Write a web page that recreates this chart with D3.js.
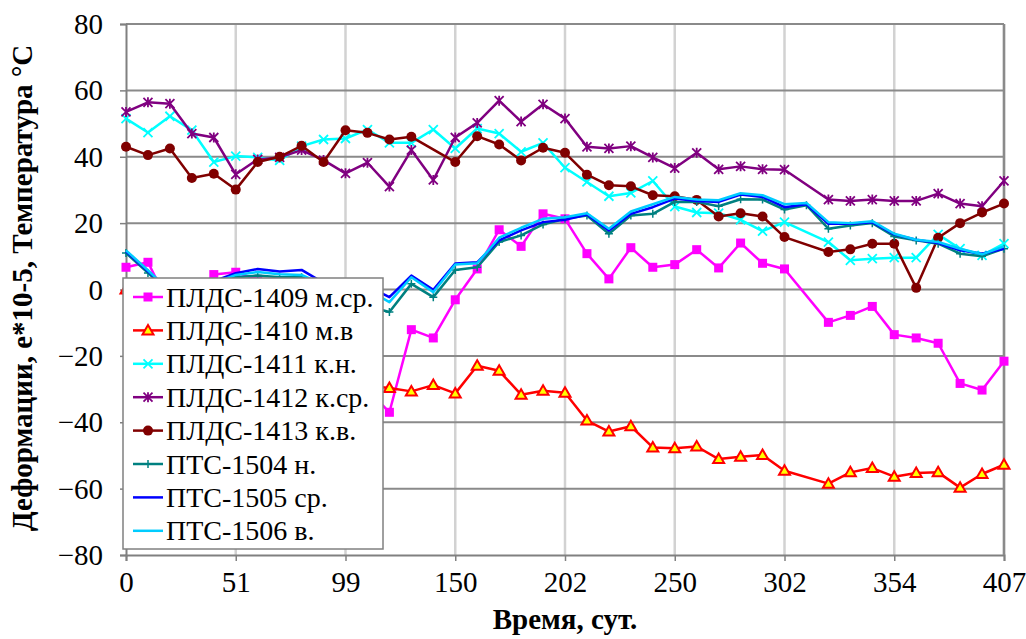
<!DOCTYPE html>
<html>
<head>
<meta charset="utf-8">
<script src="https://cdn.jsdelivr.net/npm/d3@7"></script>
<style>
  body { margin: 0; background: #fff; }
  #chart text { font-family: 'Liberation Serif', 'Times New Roman', Tinos, serif !important; }
</style>
</head>
<body>
<svg id="chart" width="1026" height="639"></svg>
<script>
// x tick labels (every 5th measurement), days
const tickLabels = [0, 51, 99, 150, 202, 250, 302, 354, 407];
const yTicks = [-80, -60, -40, -20, 0, 20, 40, 60, 80];

const seriesNames = ['ПЛДС-1409 м.ср.', 'ПЛДС-1410 м.в', 'ПЛДС-1411 к.н.', 'ПЛДС-1412 к.ср.',
  'ПЛДС-1413 к.в.', 'ПТС-1504 н.', 'ПТС-1505 ср.', 'ПТС-1506 в.'];

const plds1409 = [6.7, 8.2, -5, -3, 4.5, 5.2, 3, 1, -4, -10, -20, -30, -37, -12.1, -14.6, -3.1, 6.2, 18, 13, 22.8,
  21.3, 10.8, 3.2, 12.6, 6.7, 7.5, 12, 6.5, 14, 7.9, 6.2, null, -9.9, -7.8, -5.1, -13.6, -14.6, -16.2, -28.3, -30.3, -21.6];
const plds1410 = [0, -4, -7, -9, -13, -15, -17, -20, -22, -25, -27, -29, -29.7, -30.7, -28.8, -31.3, -23, -24.5, -31.7, -30.5,
  -31.1, -39.5, -42.8, -41.2, -47.6, -47.8, -47.3, -51.1, -50.4, -49.9, -54.6, null, -58.5, -55.1, -53.8, -56.4, -55.3, -55.1, -59.7, -55.6, -52.8];
const plds1411 = [51.5, 47.3, 52.2, 48, 38.4, 40.2, 39.8, 38.9, 43.2, 45.2, 45.5, 48.2, 44.2, 44.2, 48.2, 42.5, 48.5, 47, 41.5, 44.2,
  36.7, 32.4, 28.1, 29.1, 32.7, 25, 23.2, 23, 21, 17.6, 20.3, null, 14.3, 8.8, 9.3, 9.6, 9.6, 16.6, 12.3, 10.3, 13.8];
const plds1412 = [53.5, 56.4, 56, 47, 45.8, 34.7, 39.2, 39.8, 42, 39, 35, 38.2, 31, 42, 33, 45.8, 50.2, 56.9, 50.6, 55.8,
  51.5, 43, 42.5, 43.2, 39.8, 36.6, 41.2, 36.2, 37.1, 36.2, 36.1, null, 27.1, 26.7, 27.1, 26.7, 26.7, 28.9, 25.9, 25.1, 32.7];
const plds1413 = [43, 40.5, 42.5, 33.6, 34.9, 30.1, 38.4, 40, 43.3, 38.4, 48, 47.2, 45.2, 46, null, 38.4, 46.2, 43.7, 38.9, 42.7,
  41.2, 34.6, 31.4, 31.1, 28.4, 28.1, 27, 22, 23, 22, 15.8, null, 11.3, 12.1, 13.8, 13.8, 0.5, 15.6, 20, 23.2, 25.9];
const pts1504 = [11, 5, -1, -2, 1.5, 3.7, 4.2, 3.7, 3.7, 1, -3, -5, -6.8, 1.7, -2.3, 5.9, 6.7, 14.3, 16.3, 19.6,
  21.3, 22.3, 16.8, 22.3, 22.8, 26.4, 26.4, 25.1, 27.2, 27.1, 24.1, 25.4, 18.3, 19.3, 20, 16, 14.8, 13.8, 10.8, 10, 12.3];
const pts1505 = [11.5, 5.5, -0.5, -1, 2.5, 4.9, 6.2, 5.4, 5.9, 2, -1, 1, -2.3, 4.2, -0.1, 7.8, 8.2, 14.8, 17.8, 20.3,
  21, 22.6, 17.8, 22.8, 24.8, 27.4, 26.7, 26.4, 28.6, 27.9, 24.8, 25.7, 19.8, 19.8, 20.3, 16.6, 15, 14, 11.8, 10.8, 12.3];
const pts1506 = [11.8, 5.8, -0.5, -1.5, 2, 4.4, 5.3, 4.6, 4.4, 1.5, -2, 0, -3.8, 3.7, -0.8, 7.5, 7.9, 15.6, 18.6, 21.3,
  21.8, 23, 18.3, 23.5, 25.7, 27.9, 27.1, 26.9, 29, 28.4, 25.7, 26.1, 20.3, 20, 20.6, 16.8, 15, 14.3, 12.3, 10.6, 13];

const seriesValues = [plds1409, plds1410, plds1411, plds1412, plds1413, pts1504, pts1505, pts1506];
const colors = ['#ff00ff', '#ff0000', '#00ffff', '#800080', '#800000', '#008080', '#0000ff', '#00ccff'];
const markers = ['square', 'triangle', 'cross', 'star', 'circle', 'plus', 'none', 'none'];

const fontFam = "'Liberation Serif', 'Times New Roman', Tinos, serif";
const svg = d3.select('#chart');
const plotLeft = 126, plotRight = 1004, plotTop = 24, plotBottom = 555;

const x = d3.scaleLinear().domain([0, 40]).range([plotLeft, plotRight]);
const y = d3.scaleLinear().domain([-80, 80]).range([plotBottom, plotTop]);

// vertical gridlines
svg.append('g')
  .selectAll('line')
  .data(d3.range(5, 41, 5))
  .enter()
  .append('line')
  .attr('x1', d => x(d)).attr('x2', d => x(d))
  .attr('y1', plotTop).attr('y2', plotBottom)
  .attr('stroke', '#d2d2d2')
  .attr('stroke-width', 2.5);

// horizontal gridlines
svg.append('g')
  .selectAll('line')
  .data(yTicks.filter(d => d > -80))
  .enter()
  .append('line')
  .attr('x1', plotLeft).attr('x2', plotRight)
  .attr('y1', d => y(d)).attr('y2', d => y(d))
  .attr('stroke', '#8a8a8a')
  .attr('stroke-width', 2);

// axes
const yAxis = svg.append('g')
  .attr('transform', `translate(${plotLeft},0)`)
  .call(d3.axisLeft(y).tickValues(yTicks).tickSize(6).tickPadding(17));
const xAxis = svg.append('g')
  .attr('transform', `translate(0,${plotBottom})`)
  .call(d3.axisBottom(x).tickValues(d3.range(0, 41, 5))
    .tickFormat((d, i) => tickLabels[i]).tickSize(6).tickPadding(10));
[yAxis, xAxis].forEach((ax) => {
  ax.attr('font-family', fontFam);
  ax.select('.domain').attr('stroke', '#808080').attr('stroke-width', 2);
  ax.selectAll('.tick line').attr('stroke', '#808080').attr('stroke-width', 1.5);
  ax.selectAll('text')
    .attr('fill', '#000')
    .style('font-size', '29px');
});
yAxis.selectAll('text').attr('dy', '0.33em');

svg.append('line')
  .attr('x1', plotRight).attr('x2', plotRight)
  .attr('y1', plotTop).attr('y2', plotBottom)
  .attr('stroke', '#8a8a8a')
  .attr('stroke-width', 2.5);

// marker drawing
function drawMarker(g, type, color, cx, cy) {
  if (type === 'square') {
    g.append('rect').attr('x', cx - 4.5).attr('y', cy - 4.5).attr('width', 9).attr('height', 9)
      .attr('fill', color);
  } else if (type === 'triangle') {
    g.append('path')
      .attr('d', `M${cx},${cy - 5.5}L${cx + 5.5},${cy + 4}L${cx - 5.5},${cy + 4}Z`)
      .attr('fill', '#ffff00').attr('stroke', color).attr('stroke-width', 2);
  } else if (type === 'cross') {
    g.append('path')
      .attr('d', `M${cx - 4.5},${cy - 4.5}L${cx + 4.5},${cy + 4.5}M${cx + 4.5},${cy - 4.5}L${cx - 4.5},${cy + 4.5}`)
      .attr('stroke', color).attr('stroke-width', 1.8);
  } else if (type === 'star') {
    g.append('path')
      .attr('d', `M${cx - 4.5},${cy - 4.5}L${cx + 4.5},${cy + 4.5}M${cx + 4.5},${cy - 4.5}L${cx - 4.5},${cy + 4.5}M${cx},${cy - 5}L${cx},${cy + 5}`)
      .attr('stroke', color).attr('stroke-width', 1.8);
  } else if (type === 'circle') {
    g.append('circle').attr('cx', cx).attr('cy', cy).attr('r', 5).attr('fill', color);
  } else if (type === 'plus') {
    g.append('path')
      .attr('d', `M${cx - 4},${cy}L${cx + 4},${cy}M${cx},${cy - 4}L${cx},${cy + 4}`)
      .attr('stroke', color).attr('stroke-width', 1.5);
  }
}

const line = d3.line()
  .x(d => x(d.i))
  .y(d => y(d.v));

seriesValues.forEach((vals, s) => {
  const pts = vals.map((v, i) => ({ i, v })).filter(d => d.v !== null);
  const g = svg.append('g');
  g.append('path')
    .datum(pts)
    .attr('d', line)
    .attr('fill', 'none')
    .attr('stroke', colors[s])
    .attr('stroke-width', 2.5)
    .attr('stroke-linejoin', 'round');
  pts.forEach(p => drawMarker(g, markers[s], colors[s], x(p.i), y(p.v)));
});

// legend
const legend = svg.append('g').attr('transform', 'translate(123,278)');
legend.append('rect')
  .attr('width', 260).attr('height', 271)
  .attr('fill', '#fff')
  .attr('stroke', '#808080')
  .attr('stroke-width', 1.5);
seriesNames.forEach((name, s) => {
  const ly = 19 + s * 33.4;
  const item = legend.append('g');
  item.append('line')
    .attr('x1', 10).attr('x2', 40)
    .attr('y1', ly).attr('y2', ly)
    .attr('stroke', colors[s]).attr('stroke-width', 2.5);
  drawMarker(item, markers[s], colors[s], 25, ly);
  item.append('text')
    .attr('x', 43).attr('y', ly)
    .attr('dy', '0.34em')
    .attr('font-family', fontFam)
    .style('font-size', '28px')
    .text(name);
});

// axis titles
svg.append('text')
  .attr('transform', 'translate(32,288) rotate(-90)')
  .attr('text-anchor', 'middle')
  .attr('font-family', fontFam)
  .style('font-size', '29px')
  .style('font-weight', 'bold')
  .text('Деформации, е*10-5, Температура °C');

svg.append('text')
  .attr('x', 565).attr('y', 629)
  .attr('text-anchor', 'middle')
  .attr('font-family', fontFam)
  .style('font-size', '29px')
  .style('font-weight', 'bold')
  .text('Время, сут.');
</script>
</body>
</html>
